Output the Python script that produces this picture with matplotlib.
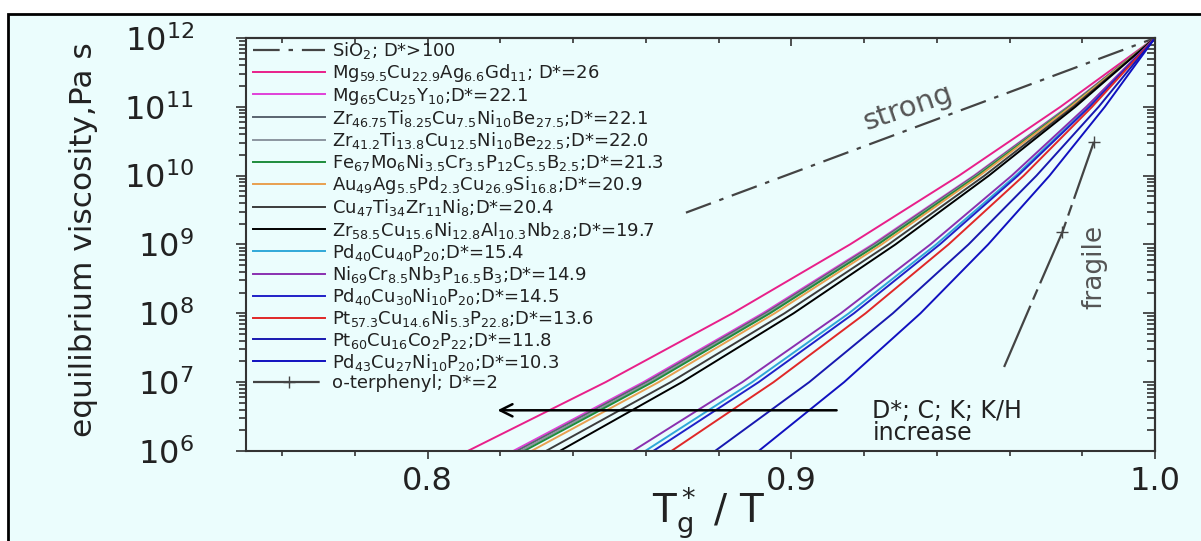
import matplotlib
matplotlib.use("Agg")
import matplotlib.pyplot as plt
from matplotlib.patches import Rectangle
from matplotlib.ticker import MultipleLocator, LogLocator, NullFormatter, FixedLocator

plt.rcParams['font.family'] = ['DejaVu Sans']
plt.rcParams['mathtext.default'] = 'regular'

BG = '#ebfdfd'
INK = '#222222'

# viscosity levels (Pa s) at which the Tg*/T positions are read
visc = [1e6, 1e7, 1e8, 1e9, 1e10, 1e11, 1e12]

alloys = [
    r'Mg$_{59.5}$Cu$_{22.9}$Ag$_{6.6}$Gd$_{11}$; D*=26',
    r'Mg$_{65}$Cu$_{25}$Y$_{10}$;D*=22.1',
    r'Zr$_{46.75}$Ti$_{8.25}$Cu$_{7.5}$Ni$_{10}$Be$_{27.5}$;D*=22.1',
    r'Zr$_{41.2}$Ti$_{13.8}$Cu$_{12.5}$Ni$_{10}$Be$_{22.5}$;D*=22.0',
    r'Fe$_{67}$Mo$_{6}$Ni$_{3.5}$Cr$_{3.5}$P$_{12}$C$_{5.5}$B$_{2.5}$;D*=21.3',
    r'Au$_{49}$Ag$_{5.5}$Pd$_{2.3}$Cu$_{26.9}$Si$_{16.8}$;D*=20.9',
    r'Cu$_{47}$Ti$_{34}$Zr$_{11}$Ni$_{8}$;D*=20.4',
    r'Zr$_{58.5}$Cu$_{15.6}$Ni$_{12.8}$Al$_{10.3}$Nb$_{2.8}$;D*=19.7',
    r'Pd$_{40}$Cu$_{40}$P$_{20}$;D*=15.4',
    r'Ni$_{69}$Cr$_{8.5}$Nb$_{3}$P$_{16.5}$B$_{3}$;D*=14.9',
    r'Pd$_{40}$Cu$_{30}$Ni$_{10}$P$_{20}$;D*=14.5',
    r'Pt$_{57.3}$Cu$_{14.6}$Ni$_{5.3}$P$_{22.8}$;D*=13.6',
    r'Pt$_{60}$Cu$_{16}$Co$_{2}$P$_{22}$;D*=11.8',
    r'Pd$_{43}$Cu$_{27}$Ni$_{10}$P$_{20}$;D*=10.3',
]

colors = ['#e8208a', '#e040d8', '#5a6470', '#8c96a0', '#1e8c3c', '#e8a050',
          '#3c3c3c', '#000000', '#30a8d8', '#8a30b0', '#2020c8', '#e02828',
          '#1818b0', '#1010c0']

# Tg*/T at each viscosity level, one row per alloy
tg_ratio = [
    [0.8110, 0.8489, 0.8838, 0.9161, 0.9461, 0.9740, 1.0],
    [0.8235, 0.8593, 0.8921, 0.9223, 0.9502, 0.9760, 1.0],
    [0.8245, 0.8601, 0.8928, 0.9228, 0.9505, 0.9762, 1.0],
    [0.8255, 0.8610, 0.8935, 0.9233, 0.9509, 0.9764, 1.0],
    [0.8265, 0.8618, 0.8941, 0.9238, 0.9512, 0.9765, 1.0],
    [0.8285, 0.8635, 0.8954, 0.9248, 0.9518, 0.9768, 1.0],
    [0.8325, 0.8668, 0.8981, 0.9267, 0.9531, 0.9775, 1.0],
    [0.8363, 0.8699, 0.9006, 0.9286, 0.9543, 0.9781, 1.0],
    [0.8598, 0.8892, 0.9158, 0.9398, 0.9617, 0.9817, 1.0],
    [0.8564, 0.8865, 0.9136, 0.9382, 0.9606, 0.9811, 1.0],
    [0.8620, 0.8910, 0.9172, 0.9408, 0.9623, 0.9820, 1.0],
    [0.8670, 0.8951, 0.9204, 0.9432, 0.9639, 0.9827, 1.0],
    [0.8790, 0.9049, 0.9279, 0.9487, 0.9674, 0.9845, 1.0],
    [0.8910, 0.9145, 0.9355, 0.9541, 0.9710, 0.9862, 1.0],
]

sio2_x = [0.871, 1.0]
sio2_visc = [2.9e9, 1e12]

oterph_x = [0.9585, 0.9665, 0.9745, 0.9832]
oterph_visc = [1.66e7, 1.6e8, 1.5e9, 3.1e10]

fig = plt.figure(figsize=(12.01, 5.41), dpi=100, facecolor='white')
fig.add_artist(Rectangle((8 / 1201, -0.1), 1.2, 0.1 + 1 - 14 / 541,
                         transform=fig.transFigure, facecolor=BG,
                         edgecolor='black', lw=2, zorder=0))

ax = fig.add_axes([0.2048, 0.1664, 0.7569, 0.7634])
ax.set_facecolor(BG)
ax.set_yscale('log')
ax.set_xlim(0.75, 1.0)
ax.set_ylim(1e6, 1e12)

handles = []
h, = ax.plot(sio2_x, sio2_visc, color='#444444', lw=1.6,
             dashes=(12, 4, 2, 4), label=r'SiO$_2$; D*>100')
handles.append(h)
for lab, col, xs in zip(alloys, colors, tg_ratio):
    h, = ax.plot(xs, visc, color=col, lw=1.4, label=lab)
    handles.append(h)
h, = ax.plot(oterph_x, oterph_visc, color='#444444', lw=1.6,
             dashes=(30, 3, 5, 3), marker='+', markersize=9, markevery=[2, 3],
             label='o-terphenyl; D*=2')
handles.append(h)

leg = ax.legend(handles=handles, loc='upper left', bbox_to_anchor=(0.0, 1.012),
                frameon=False, fontsize=13, handlelength=4.0,
                handletextpad=0.35, labelspacing=0.065, borderaxespad=0.0,
                numpoints=1)
for t in leg.get_texts():
    t.set_color(INK)

# annotations
ax.text(0.932, 9.6e10, 'strong', rotation=19, fontsize=21, color='#555555',
        ha='center', va='center')
ax.text(0.9832, 4.7e8, 'fragile', rotation=90, fontsize=19, color='#555555',
        ha='center', va='center')
ax.annotate('', xy=(0.8184, 3.9e6), xytext=(0.9132, 3.9e6),
            arrowprops=dict(arrowstyle='->', color='black', lw=1.8,
                            mutation_scale=22))
ax.text(0.9223, 2.6e6, 'D*; C; K; K/H\nincrease', fontsize=17, color=INK,
        ha='left', va='center', linespacing=0.9)

# axes styling
for sp in ax.spines.values():
    sp.set_color('#333333')
    sp.set_linewidth(1.5)

ax.xaxis.set_major_locator(FixedLocator([0.8, 0.9, 1.0]))
ax.xaxis.set_minor_locator(MultipleLocator(0.02))
ax.set_xticklabels(['0.8', '0.9', '1.0'])
ax.set_yticks(visc)
ax.set_yticklabels([r'$10^{%d}$' % k for k in range(6, 13)])
ax.yaxis.set_minor_locator(LogLocator(base=10, subs=range(2, 10)))
ax.yaxis.set_minor_formatter(NullFormatter())
ax.tick_params(which='both', direction='out', color='#333333', width=1.2,
               labelsize=23, labelcolor=INK)
ax.tick_params(axis='x', which='major', length=5.8, pad=5)
ax.tick_params(axis='x', which='minor', length=3.6)
ax.tick_params(axis='y', which='major', length=7.5, pad=30)
ax.tick_params(axis='y', which='minor', length=5)

top = ax.secondary_xaxis('top')
top.xaxis.set_major_locator(FixedLocator([0.8, 0.9, 1.0]))
top.xaxis.set_minor_locator(MultipleLocator(0.02))
top.xaxis.set_major_formatter(NullFormatter())
top.tick_params(which='both', direction='in', color='#333333', width=1.2)
top.tick_params(which='major', length=5.8)
top.tick_params(which='minor', length=3.6)
top.spines['top'].set_color('#333333')
top.spines['top'].set_linewidth(1.5)

right = ax.secondary_yaxis('right')
right.yaxis.set_major_locator(FixedLocator(visc))
right.yaxis.set_minor_locator(LogLocator(base=10, subs=range(2, 10)))
right.yaxis.set_major_formatter(NullFormatter())
right.yaxis.set_minor_formatter(NullFormatter())
right.tick_params(which='both', direction='in', color='#333333', width=1.2)
right.tick_params(which='major', length=9)
right.tick_params(which='minor', length=6)
right.spines['right'].set_color('#333333')
right.spines['right'].set_linewidth(1.5)

ax.set_xlabel(r'T$_g^*$ / T', fontsize=28, color=INK)
ax.xaxis.label.set_va('baseline')
ax.xaxis.set_label_coords(0.509, -0.172)
ax.set_ylabel('equilibrium viscosity,Pa s', fontsize=22.5, color=INK)
ax.yaxis.label.set_va('center')
ax.yaxis.set_label_coords(-0.179, 0.511)

fig.savefig('out.png', dpi=100, facecolor=fig.get_facecolor())
